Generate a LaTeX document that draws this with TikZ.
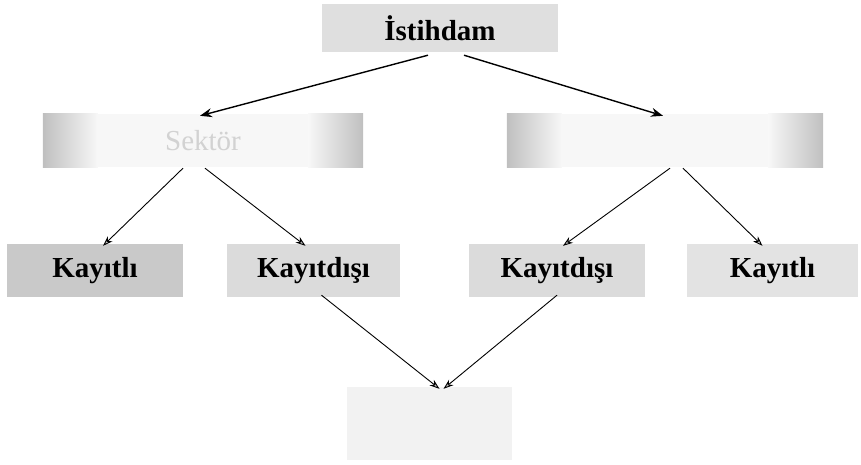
\documentclass[tikz,border=0pt]{standalone}
\usepackage{fontspec}
\setmainfont{Liberation Serif}
\usetikzlibrary{arrows.meta,calc}
\begin{document}
\begin{tikzpicture}[x=1pt,y=-1pt,
  box/.style={draw=none,minimum height=53pt,inner sep=0pt,font=\bfseries\fontsize{29}{32}\selectfont,text=black},
  flat/.style={box,fill=gray!28},
  dark/.style={box,fill=gray!42},
  sidefade/.style={box,fill=gray!6},
  leftband/.style={left color=gray!50,right color=gray!6},
  rightband/.style={left color=gray!6,right color=gray!50},
  bigarrow/.style={line width=1.4pt,-{Stealth[length=12pt,width=9pt]}},
  smallarrow/.style={line width=0.9pt,-{Stealth[length=10pt,width=7pt,fill=gray!45]}}]
\useasboundingbox (0,0) rectangle (861,465);
\node[flat,fill=gray!25,minimum width=236pt,minimum height=48pt] (top) at (440,28) {İstihdam};
\node[sidefade,minimum width=320pt] (ls) at (203,140.5) {\mdseries\color{gray!35}Sektör};
\node[sidefade,minimum width=316pt] (rs) at (665,140.5) {};
\shade[leftband] (ls.north west) rectangle ([xshift=55pt]ls.south west);
\shade[rightband] ([xshift=-55pt]ls.north east) rectangle (ls.south east);
\shade[leftband] (rs.north west) rectangle ([xshift=55pt]rs.south west);
\shade[rightband] ([xshift=-55pt]rs.north east) rectangle (rs.south east);
\node[dark,minimum width=176pt] (k1) at (95,270.5) {Kayıtlı};
\node[flat,minimum width=173pt] (kd1) at (313.5,270.5) {Kayıtdışı};
\node[flat,minimum width=176pt] (kd2) at (557,270.5) {Kayıtdışı};
\node[flat,fill=gray!22,minimum width=171pt] (k2) at (772.5,270.5) {Kayıtlı};
\node[box,fill=gray!10,minimum width=165pt,minimum height=73pt] (bot) at (429.5,423.5) {};
\draw[bigarrow] ([xshift=-12pt,yshift=-3pt]top.south) -- ([xshift=-3pt,yshift=-2pt]ls.north);
\draw[bigarrow] ([xshift=24pt,yshift=-3pt]top.south) -- ([xshift=-2pt,yshift=-2pt]rs.north);
\draw[smallarrow] ([xshift=-20pt,yshift=-1pt]ls.south) -- ([xshift=8pt,yshift=-2pt]k1.north);
\draw[smallarrow] ([xshift=2pt,yshift=-1pt]ls.south) -- ([xshift=-8pt,yshift=-2pt]kd1.north);
\draw[smallarrow] ([xshift=5pt,yshift=-1pt]rs.south) -- ([xshift=6pt,yshift=-2pt]kd2.north);
\draw[smallarrow] ([xshift=18pt,yshift=-1pt]rs.south) -- ([xshift=-10pt,yshift=-2pt]k2.north);
\draw[smallarrow] ([xshift=8pt,yshift=2pt]kd1.south) -- ([xshift=10pt,yshift=-2pt]bot.north);
\draw[smallarrow] ([xshift=0pt,yshift=2pt]kd2.south) -- ([xshift=14pt,yshift=-2pt]bot.north);
\end{tikzpicture}
\end{document}
